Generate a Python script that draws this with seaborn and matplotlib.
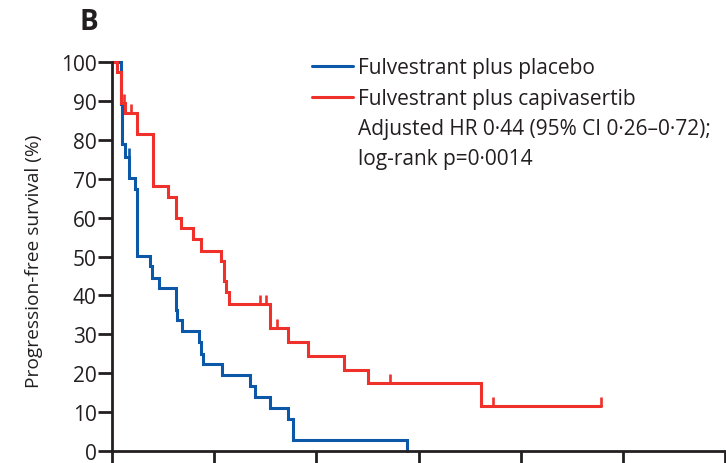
import numpy as np
import pandas as pd
import matplotlib
matplotlib.use("Agg")
import matplotlib.pyplot as plt
from matplotlib.path import Path
from matplotlib.lines import Line2D
import seaborn as sns

# Kaplan-Meier step values (time in months, progression-free survival in %)
placebo_time = [0, 1.02, 1.17, 1.52, 2.03, 2.69, 2.96, 4.45, 4.65, 5.50, 7.49, 7.69,
                8.28, 10.22, 10.42, 10.69, 12.96, 16.24, 16.82, 18.50, 20.64, 21.31, 34.62]
placebo_surv = [100, 89.2, 78.9, 75.5, 70.2, 67.4, 50.2, 47.5, 44.5, 41.8, 36.3, 33.8,
                30.9, 27.9, 24.9, 22.4, 19.6, 16.8, 14.0, 11.1, 8.2, 2.8, 0]
placebo_censor = [1.99]

capi_time = [0, 0.55, 1.05, 1.52, 2.89, 2.96, 4.83, 6.59, 7.57, 8.16, 9.52, 10.50,
             12.84, 13.11, 13.43, 13.73, 18.61, 20.72, 23.06, 27.20, 30.12, 43.32]
capi_surv = [100, 97.4, 89.5, 87.0, 84.2, 81.5, 68.0, 65.3, 59.9, 57.2, 54.5, 51.5,
             48.8, 43.6, 40.8, 37.8, 31.5, 27.9, 24.3, 20.9, 17.5, 11.6]
capi_censor = [1.46, 2.19, 17.33, 18.11, 19.35, 32.66, 44.72, 57.44]

group_labels = ["Fulvestrant plus placebo", "Fulvestrant plus capivasertib"]
stats_lines = ["Adjusted HR 0·44 (95% CI 0·26–0·72);", "log-rank p=0·0014"]
y_ticks = list(range(0, 101, 10))
x_ticks = list(range(0, 73, 12))

BLUE = "#0b57a8"
RED = "#f0302a"
INK = "#231f20"

sns.set_theme(style="ticks")
plt.rcParams["font.family"] = ["Open Sans", "DejaVu Sans"]

fig = plt.figure(figsize=(7.26, 4.64), dpi=100)
W, H = 726, 464
ax = fig.add_axes([112 / W, (H - 452) / H, (725 - 112) / W, (452 - 63) / H])

# censor mark: a short vertical stroke rising from the curve
censor_mark = Path([(0, 0), (0, 1)], [Path.MOVETO, Path.LINETO])


def curve_frame(times, surv, censor):
    t = list(times)
    s = list(surv)
    if censor and max(censor) > t[-1]:
        t.append(max(censor))
        s.append(s[-1])
    return pd.DataFrame({"time": t, "surv": s})


def censor_frame(times, surv, censor):
    idx = np.searchsorted(np.asarray(times), np.asarray(censor), side="right") - 1
    return pd.DataFrame({"time": censor, "surv": np.asarray(surv)[idx]})


for times, surv, cens, color in [
    (placebo_time, placebo_surv, placebo_censor, BLUE),
    (capi_time, capi_surv, capi_censor, RED),
]:
    df = curve_frame(times, surv, cens)
    sns.lineplot(data=df, x="time", y="surv", ax=ax, color=color, lw=2.2,
                 drawstyle="steps-post", estimator=None, sort=False,
                 solid_joinstyle="miter", clip_on=False)
    cf = censor_frame(times, surv, cens)
    ax.plot(cf["time"], cf["surv"], linestyle="none", marker=censor_mark,
            markersize=13, markeredgewidth=1.9, color=color, clip_on=False)

ax.set_xlim(0, 72)
ax.set_ylim(0, 100)
ax.set_xticks(x_ticks)
ax.set_yticks(y_ticks)
ax.set_xticklabels([])
ax.set_xlabel("")
ax.set_ylabel("Progression-free survival (%)", fontsize=13.8, color=INK)
ax.yaxis.set_label_coords(-0.113, 0.49)
sns.despine(ax=ax)
for side in ["left", "bottom"]:
    ax.spines[side].set_linewidth(2.0)
    ax.spines[side].set_color(INK)
ax.tick_params(axis="y", length=10, width=2.0, color=INK, labelsize=15,
               labelcolor=INK, pad=1)
ax.tick_params(axis="x", length=14, width=2.0, color=INK, labelbottom=False)

handles = [Line2D([], [], color=BLUE, lw=2.2), Line2D([], [], color=RED, lw=2.2)]
leg = ax.legend(handles, group_labels, loc="upper left",
                bbox_to_anchor=(312 / W, 1 - 58 / H), bbox_transform=fig.transFigure,
                frameon=False, fontsize=15, handlelength=1.95, handletextpad=0.28,
                borderpad=0, borderaxespad=0, labelspacing=0.48)
for t in leg.get_texts():
    t.set_color(INK)

for i, line in enumerate(stats_lines):
    fig.text(358 / W, 1 - (129.5 + 30 * i) / H, line, fontsize=15, color=INK,
             ha="left", va="center")

fig.text(80 / W, 1 - 22 / H, "B", fontsize=20, fontweight="bold", color=INK,
         ha="left", va="center")

fig.savefig("out.png", dpi=100)
